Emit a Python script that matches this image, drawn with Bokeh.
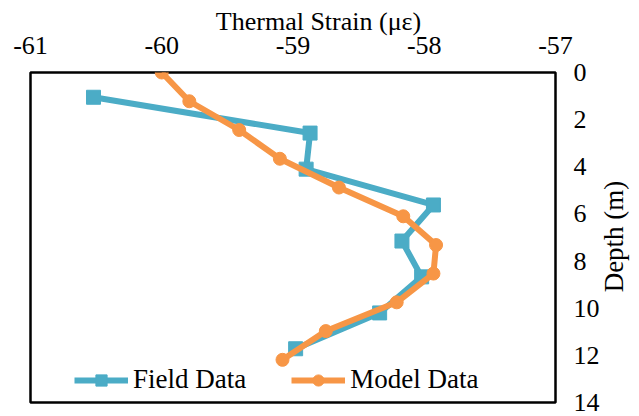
from bokeh.embed import file_html
from bokeh.models import FixedTicker, Label, Legend, LegendItem, Range1d
from bokeh.plotting import figure
from bokeh.resources import INLINE

# Thermal strain profiles against depth
field_strain = [-60.52, -58.87, -58.90, -57.93, -58.17, -58.02, -58.34, -58.98]
field_depth = [1.05, 2.57, 4.10, 5.62, 7.15, 8.67, 10.20, 11.72]

model_strain = [-60.00, -59.79, -59.41, -59.10, -58.65, -58.16, -57.91, -57.93,
                -58.21, -58.75, -59.08]
model_depth = [0.00, 1.22, 2.44, 3.66, 4.88, 6.10, 7.32, 8.53, 9.75, 10.97, 12.19]

x_ticks = [-61, -60, -59, -58, -57]
y_ticks = [0, 2, 4, 6, 8, 10, 12, 14]

FONT = "Liberation Serif"
TEAL = "#4BACC6"
ORANGE = "#F79646"
FS = "26px"
FS_LEGEND = "27px"

p = figure(
    width=639, height=416,
    output_backend="svg", toolbar_location=None,
    x_axis_location="above", y_axis_location="right",
    x_range=Range1d(-61, -57), y_range=Range1d(14, 0),
    min_border_left=30, min_border_right=84,
    min_border_top=72, min_border_bottom=14,
)

p.grid.visible = False
p.outline_line_color = "black"
p.outline_line_width = 2.5
p.background_fill_color = "white"
p.border_fill_color = "white"

for ax in (p.xaxis[0], p.yaxis[0]):
    ax.axis_line_color = None
    ax.major_tick_line_color = None
    ax.minor_tick_line_color = None
    ax.major_tick_out = 0
    ax.major_tick_in = 0
    ax.major_label_text_font = FONT
    ax.major_label_text_font_size = FS
    ax.major_label_text_color = "black"

# plain hyphen-minus on the strain labels
p.xaxis.ticker = FixedTicker(ticks=x_ticks)
p.xaxis.major_label_overrides = {t: str(t) for t in x_ticks}
p.yaxis.ticker = FixedTicker(ticks=y_ticks)
p.yaxis.major_label_overrides = {t: str(t) for t in y_ticks}

p.xaxis.major_label_standoff = 19
p.yaxis.major_label_standoff = 18
p.yaxis.major_label_orientation = "horizontal"

# strain title above the scale, set a little right of centre
strain_title = Label(
    x=288, y=12, x_units="screen", y_units="screen",
    text="Thermal Strain (με)",
    text_align="center", text_baseline="middle",
    text_font=FONT, text_font_size=FS, text_color="black",
)
p.add_layout(strain_title, "above")

# depth title in its own panel right of the depth scale, reading bottom to top
depth_title = Label(
    x=11, y=166, x_units="screen", y_units="screen",
    text="Depth (m)", angle=90, angle_units="deg",
    text_align="center", text_baseline="middle",
    text_font=FONT, text_font_size=FS_LEGEND, text_color="black",
)
p.add_layout(depth_title, "right")

field_line = p.line(field_strain, field_depth, line_color=TEAL, line_width=6)
field_pts = p.scatter(field_strain, field_depth, marker="square", size=14,
                      fill_color=TEAL, line_color=TEAL)
model_line = p.line(model_strain, model_depth, line_color=ORANGE, line_width=6)
model_pts = p.scatter(model_strain, model_depth, marker="circle", size=13,
                      fill_color=ORANGE, line_color=ORANGE)

legend = Legend(
    items=[
        LegendItem(label="Field Data", renderers=[field_line, field_pts]),
        LegendItem(label="Model Data", renderers=[model_line, model_pts]),
    ],
    orientation="horizontal",
    location=(44, 7),
    border_line_color=None,
    background_fill_alpha=0,
    padding=0,
    margin=0,
    spacing=45,
    glyph_width=54,
    glyph_height=28,
    label_standoff=5,
    label_text_font=FONT,
    label_text_font_size=FS_LEGEND,
    label_text_color="black",
)
p.add_layout(legend)

open("out.html", "w").write(file_html(p, INLINE))
